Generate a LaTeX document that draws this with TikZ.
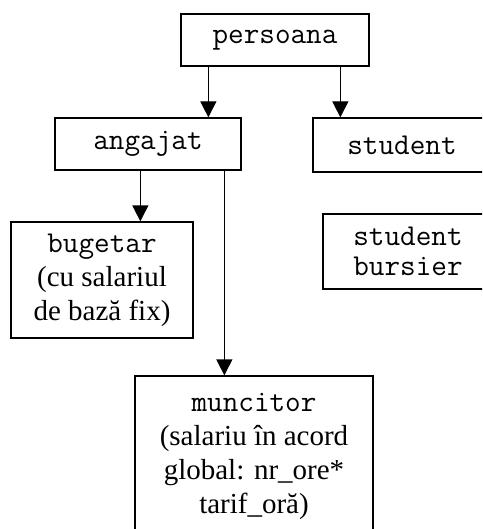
\documentclass[tikz,border=0pt]{standalone}
\usepackage{fontspec}
\setmainfont{Liberation Serif}
\usetikzlibrary{arrows.meta}
\begin{document}
\begin{tikzpicture}[x=1pt,y=-1pt,
  box/.style={draw,line width=1.3pt,inner sep=0pt,align=center,
    font=\fontsize{29}{34}\selectfont},
  arr/.style={line width=1.3pt,-{Triangle[width=16pt,length=16pt]}},
  mono/.style={font=\fontsize{30.3}{30}\selectfont\ttfamily}]
\useasboundingbox (0,0) rectangle (482,529);
\clip (0,0) rectangle (482,529);
% class hierarchy boxes
\node[box,mono,minimum width=188pt,minimum height=52pt] (persoana) at (275,40) {persoana};
\node[box,mono,minimum width=186pt,minimum height=52pt] (angajat) at (148,144) {angajat};
\node[box,mono,minimum width=178pt,minimum height=54pt] (student) at (402,145) {student};
\node[box,mono,minimum width=170pt,minimum height=75pt] (bursier) at (408,251.5) {student\\bursier};
\node[box,minimum width=182pt,minimum height=116pt] (bugetar) at (102,280)
  {{\fontsize{30.3}{30}\selectfont\ttfamily bugetar}\\(cu salariul\\de bază fix)};
\node[box,minimum width=238pt,minimum height=160pt] (muncitor) at (254,456)
  {{\fontsize{30.3}{30}\selectfont\ttfamily muncitor}\\(salariu în acord\\global: nr\_ore*\\tarif\_oră)};
% inheritance arrows
\draw[arr] ([xshift=28pt]persoana.south west) coordinate (a1) -- (a1 |- angajat.north);
\draw[arr] ([xshift=160pt]persoana.south west) coordinate (a2) -- (a2 |- student.north);
\draw[arr] ([xshift=86pt]angajat.south west) coordinate (a3) -- (a3 |- bugetar.north);
\draw[arr] ([xshift=170pt]angajat.south west) coordinate (a4) -- (a4 |- muncitor.north);
\end{tikzpicture}
\end{document}
